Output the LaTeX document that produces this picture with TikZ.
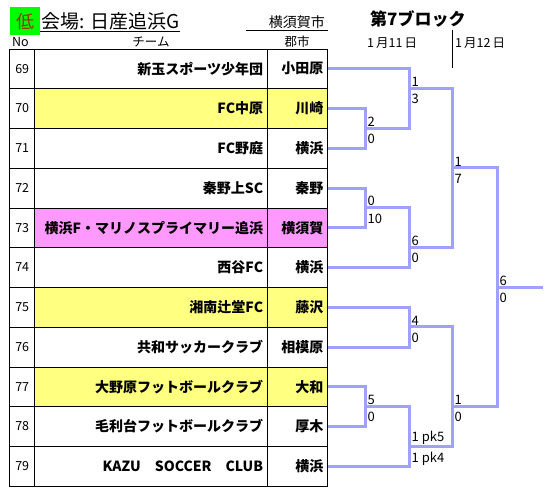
\documentclass[tikz,border=0pt]{standalone}
\usepackage{fontspec}
\setmainfont{Noto Sans CJK JP}
\usepackage{xcolor}
\definecolor{bktblue}{HTML}{A0A0FF}
\definecolor{hlyellow}{HTML}{FFFF80}
\definecolor{hlpink}{HTML}{FF99FF}
\definecolor{lowgreen}{HTML}{00FF00}
\definecolor{lowred}{HTML}{993300}

\begin{document}
\begin{tikzpicture}[x=1pt,y=-1pt,
  cell/.style={draw,line width=0.8pt,anchor=north west,minimum height=39.75pt,inner ysep=0pt},
  nocell/.style={cell,minimum width=25pt,inner xsep=0pt,font=\fontsize{12.5}{12.5}\selectfont},
  team/.style={cell,text width=224.4pt,inner xsep=4pt,align=right,font=\fontsize{14}{14}\selectfont\bfseries},
  city/.style={cell,text width=52.3pt,inner xsep=4pt,align=right,font=\fontsize{14}{14}\selectfont\bfseries},
  bkt/.style={draw=bktblue,line width=3pt},
  scoreup/.style={anchor=south west,inner xsep=1pt,inner ysep=1.5pt,xshift=1.5pt,font=\fontsize{13}{13}\selectfont},
  scoredown/.style={anchor=north west,inner xsep=1pt,inner ysep=1pt,xshift=1.5pt,yshift=-5pt,font=\fontsize{13}{13}\selectfont},
  head/.style={inner sep=1pt,font=\fontsize{12.5}{12.5}\selectfont}]
\useasboundingbox (0,0) rectangle (553,498);

% header
\node[fill=lowgreen,text=lowred,minimum width=30pt,minimum height=28pt,inner sep=0pt,anchor=north west,font=\fontsize{18}{18}\selectfont] (low) at (10,7) {低};
\node[anchor=south west,inner sep=1pt,font=\fontsize{19}{19}\selectfont] (venue) at (40,31) {会場: 日産追浜G};
\draw (venue.south west) -- (venue.south east);
\node[anchor=south east,inner sep=1pt,font=\fontsize{14}{14}\selectfont] (host) at (326,30) {横須賀市};
\draw ([xshift=-22pt]host.south west) -- ([xshift=2pt]host.south east);
\node[anchor=west,inner sep=1pt,font=\fontsize{17}{17}\selectfont\bfseries] (block) at (369,19) {第7ブロック};
\node[head,anchor=west] (hno) at (11,42) {No};
\node[head] (hteam) at (151,42) {チーム};
\node[head] (hcity) at (297,42) {郡市};
\node[head,anchor=west] (d11) at (366,43) {1\,月11\,日};
\node[head,anchor=west] (d12) at (454,43) {1\,月12\,日};
\draw (452,30) -- (452,68);

% table
\node[nocell] (n69) at (9.3,48.5) {69};
\node[team] (t69) at (34.3,48.5) {新玉スポーツ少年団};
\node[city] (c69) at (266.7,48.5) {小田原};
\node[nocell] (n70) at (9.3,88.25) {70};
\node[team,fill=hlyellow] (t70) at (34.3,88.25) {FC中原};
\node[city,fill=hlyellow] (c70) at (266.7,88.25) {川崎};
\node[nocell] (n71) at (9.3,128) {71};
\node[team] (t71) at (34.3,128) {FC野庭};
\node[city] (c71) at (266.7,128) {横浜};
\node[nocell] (n72) at (9.3,167.75) {72};
\node[team] (t72) at (34.3,167.75) {秦野上SC};
\node[city] (c72) at (266.7,167.75) {秦野};
\node[nocell] (n73) at (9.3,207.5) {73};
\node[team,fill=hlpink] (t73) at (34.3,207.5) {横浜F・マリノスプライマリー追浜};
\node[city,fill=hlpink] (c73) at (266.7,207.5) {横須賀};
\node[nocell] (n74) at (9.3,247.25) {74};
\node[team] (t74) at (34.3,247.25) {西谷FC};
\node[city] (c74) at (266.7,247.25) {横浜};
\node[nocell] (n75) at (9.3,287) {75};
\node[team,fill=hlyellow] (t75) at (34.3,287) {湘南辻堂FC};
\node[city,fill=hlyellow] (c75) at (266.7,287) {藤沢};
\node[nocell] (n76) at (9.3,326.75) {76};
\node[team] (t76) at (34.3,326.75) {共和サッカークラブ};
\node[city] (c76) at (266.7,326.75) {相模原};
\node[nocell] (n77) at (9.3,366.5) {77};
\node[team,fill=hlyellow] (t77) at (34.3,366.5) {大野原フットボールクラブ};
\node[city,fill=hlyellow] (c77) at (266.7,366.5) {大和};
\node[nocell] (n78) at (9.3,406.25) {78};
\node[team] (t78) at (34.3,406.25) {毛利台フットボールクラブ};
\node[city] (c78) at (266.7,406.25) {厚木};
\node[nocell] (n79) at (9.3,446) {79};
\node[team] (t79) at (34.3,446) {KAZU\ \ \ SOCCER\ \ \ CLUB};
\node[city] (c79) at (266.7,446) {横浜};

% bracket
\coordinate (mA) at (365,128);
\coordinate (mB) at (409,88.25);
\coordinate (mC) at (365,207.5);
\coordinate (mD) at (409,247.25);
\coordinate (mE) at (452,167.75);
\coordinate (mF) at (409,326.75);
\coordinate (mG) at (365,406.25);
\coordinate (mH) at (409,446);
\coordinate (mI) at (452,406.25);
\coordinate (mJ) at (497,287);
\coordinate (win) at (543,287);
\draw[bkt] (c70.east) -| (mA) |- (c71.east);
\draw[bkt] (c69.east) -| (mB) |- (mA);
\draw[bkt] (c72.east) -| (mC) |- (c73.east);
\draw[bkt] (mC) -| (mD) |- (c74.east);
\draw[bkt] (mB) -| (mE) |- (mD);
\draw[bkt] (c75.east) -| (mF) |- (c76.east);
\draw[bkt] (c77.east) -| (mG) |- (c78.east);
\draw[bkt] (mG) -| (mH) |- (c79.east);
\draw[bkt] (mF) -| (mI) |- (mH);
\draw[bkt] (mE) -| (mJ) |- (mI);
\draw[bkt] (mJ) -- (win);

% scores
\node[scoreup] (sA1) at (mA) {2};
\node[scoredown] (sA2) at (mA) {0};
\node[scoreup] (sB1) at (mB) {1};
\node[scoredown] (sB2) at (mB) {3};
\node[scoreup] (sC1) at (mC) {0};
\node[scoredown] (sC2) at (mC) {10};
\node[scoreup] (sD1) at (mD) {6};
\node[scoredown] (sD2) at (mD) {0};
\node[scoreup] (sE1) at (mE) {1};
\node[scoredown] (sE2) at (mE) {7};
\node[scoreup] (sF1) at (mF) {4};
\node[scoredown] (sF2) at (mF) {0};
\node[scoreup] (sG1) at (mG) {5};
\node[scoredown] (sG2) at (mG) {0};
\node[scoreup] (sH1) at (mH) {1 pk5};
\node[scoredown] (sH2) at (mH) {1 pk4};
\node[scoreup] (sI1) at (mI) {1};
\node[scoredown] (sI2) at (mI) {0};
\node[scoreup] (sJ1) at (mJ) {6};
\node[scoredown] (sJ2) at (mJ) {0};
\end{tikzpicture}
\end{document}
